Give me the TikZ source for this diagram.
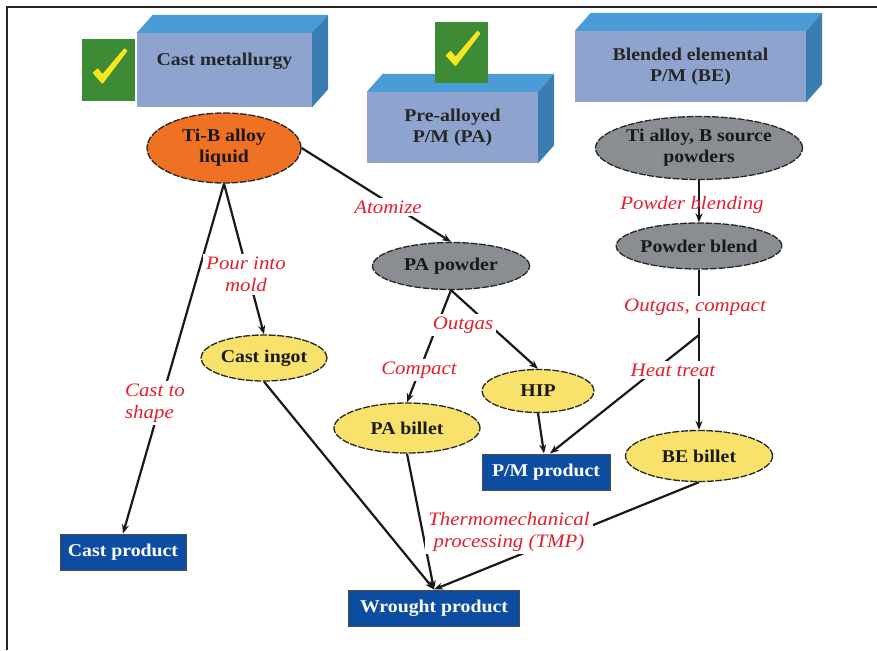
\documentclass[tikz,border=0pt]{standalone}
\usepackage{fontspec}
\setmainfont{Liberation Serif}[FakeStretch=1.1]
\usepackage{xcolor}
\usepackage{tikz}
\usetikzlibrary{shapes.geometric, arrows.meta, backgrounds}
\definecolor{MetalTop}{HTML}{4A9BD6}
\definecolor{MetalFront}{HTML}{8EA4CE}
\definecolor{MetalSide}{HTML}{3A7DB3}
\definecolor{CheckGreen}{HTML}{3E8B36}
\definecolor{CheckYellow}{HTML}{F7E51E}
\definecolor{LiquidOrange}{HTML}{EE7124}
\definecolor{PowderGray}{HTML}{8A8E92}
\definecolor{BilletYellow}{HTML}{F9E26B}
\definecolor{ProductBlue}{HTML}{0C4DA2}
\definecolor{StepRed}{HTML}{E21F2C}

\begin{document}
\begin{tikzpicture}[x=1pt, y=-1pt, >=Stealth, every node/.style={font=\fontsize{18}{21}\selectfont}]
      \tikzset{
        head/.style={rectangle, fill=MetalFront, inner sep=0pt, align=center, text=black!85, font=\fontsize{18}{21}\selectfont\bfseries},
        tick/.style={rectangle, fill=CheckGreen, minimum width=53pt, minimum height=62pt, inner sep=0pt},
        blob/.style={ellipse, draw=black!85, line width=1.3pt, dash pattern=on 7pt off 1.5pt, inner sep=0pt, align=center, text=black!90, font=\fontsize{18}{21}\selectfont\bfseries},
        liquid/.style={blob, fill=LiquidOrange},
        powder/.style={blob, fill=PowderGray},
        billet/.style={blob, fill=BilletYellow},
        product/.style={rectangle, draw=black!70, line width=1pt, fill=ProductBlue, text=white, minimum height=36pt, inner sep=0pt, font=\fontsize{18}{21}\selectfont\bfseries},
        proclbl/.style={fill=white, text=StepRed, inner sep=3pt, align=center, font=\fontsize{19}{21.5}\selectfont\itshape},
        arrow/.style={-{Stealth[length=9pt, width=7pt]}, line width=2.2pt, draw=black!90}
      }
      \useasboundingbox (0,0) rectangle (877,650);
      \draw[line width=2.6pt, black!85] (7,650) -- (7,7) -- (877,7);

      % route headers
      \node[head, minimum width=175pt, minimum height=74pt] (castmet) at (224.5,70) {Cast metallurgy\\\mbox{}};
      \node[head, minimum width=171pt, minimum height=71pt] (prealloy) at (452.5,127.5) {Pre-alloyed\\P/M (PA)};
      \node[head, minimum width=231pt, minimum height=71pt] (blended) at (690.5,66.5) {Blended elemental\\P/M (BE)};
      \foreach \h in {castmet, prealloy, blended} {
        \fill[MetalTop] (\h.north west) -- ++(16,-18) -- ([shift={(16,-18)}]\h.north east) -- (\h.north east) -- cycle;
        \fill[MetalSide] (\h.north east) -- ++(16,-18) -- ([shift={(16,-18)}]\h.south east) -- (\h.south east) -- cycle;
      }
      \node[tick] (tick1) at (108.5,70) {};
      \node[tick, minimum height=61pt] (tick2) at (461.5,52.5) {};
      \foreach \t in {tick1, tick2}
        \fill[CheckYellow, rounded corners=0.8pt] ([shift={(-16,3)}]\t.center) -- ([shift={(-11,-2)}]\t.center) -- ([shift={(-6,4)}]\t.center) -- ([shift={(16,-22)}]\t.center) -- ([shift={(19,-19)}]\t.center) -- ([shift={(-6,14)}]\t.center) -- cycle;

      % materials
      \node[liquid, minimum width=154pt, minimum height=70pt] (tib) at (224,148) {Ti-B alloy\\liquid};
      \node[powder, minimum width=157pt, minimum height=47pt] (papowder) at (451,266) {PA powder};
      \node[powder, minimum width=207pt, minimum height=63pt] (tipowder) at (699,148) {Ti alloy, B source\\powders};
      \node[powder, minimum width=161pt, minimum height=46pt] (blend) at (699,246) {Powder blend};
      \node[billet, minimum width=126pt, minimum height=46pt] (ingot) at (264,358) {Cast ingot};
      \node[billet, minimum width=146pt, minimum height=50pt] (pabillet) at (407,428) {PA billet};
      \node[billet, minimum width=112pt, minimum height=43pt] (hip) at (538,391) {HIP};
      \node[billet, minimum width=147pt, minimum height=51pt] (bebillet) at (699,456) {BE billet};
      \node[product, minimum width=126pt] (castprod) at (123,552) {Cast product};
      \node[product, minimum width=128pt] (pmprod) at (546,472) {P/M product};
      \node[product, minimum width=171pt] (wrought) at (434,608) {Wrought product};

      % process steps
      \node[proclbl] (atomize) at (388,207) {Atomize};
      \node[proclbl] (pour) at (246,274.5) {Pour into\\mold};
      \node[proclbl, align=left] (casttoshape) at (155,403) {Cast to\\shape};
      \node[proclbl] (outgas) at (463,325) {Outgas};
      \node[proclbl] (compact) at (419,370) {Compact};
      \node[proclbl, fill=none] (blending) at (692,205) {Powder blending};
      \node[proclbl] (outcompact) at (695,307) {Outgas, compact};
      \node[proclbl] (heattreat) at (673,370) {Heat treat};
      \node[proclbl] (tmp) at (509,532) {Thermomechanical\\processing (TMP)};
      \coordinate (junc) at (699,335);

      \begin{pgfonlayer}{background}
        \draw[arrow] (tib.south) -- (castprod.north);
        \draw[arrow] (tib.south) -- (ingot.north);
        \draw[arrow] (tib.east) -- (papowder.north);
        \draw[arrow] (papowder.south) -- (pabillet.north);
        \draw[arrow] (papowder.south) -- (hip.north);
        \draw[arrow] (tipowder.south) -- (blend.north);
        \draw[arrow] (blend.south) -- (bebillet.north);
        \draw[arrow] (junc) -- ([xshift=4pt]pmprod.north);
        \draw[arrow] (hip.south) -- ([xshift=-2pt]pmprod.north);
        \draw[arrow] (ingot.south) -- (wrought.north);
        \draw[arrow] (pabillet.south) -- (wrought.north);
        \draw[arrow] (bebillet.south) -- (wrought.north);
      \end{pgfonlayer}
    \end{tikzpicture}
\end{document}
